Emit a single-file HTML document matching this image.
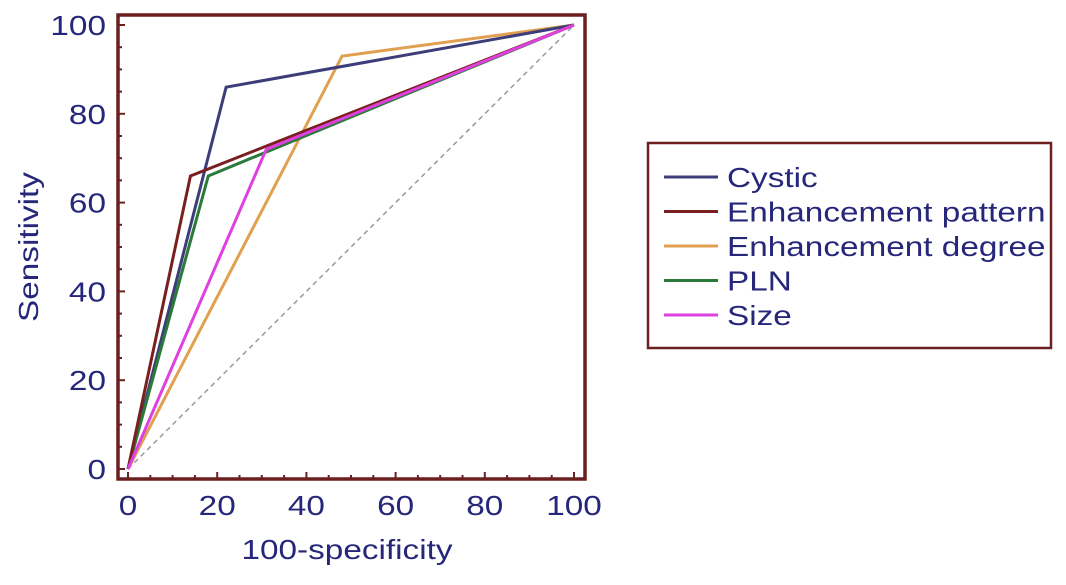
<!DOCTYPE html>
<html><head><meta charset="utf-8"><style>
body{margin:0;background:#fff;}
svg text{font-family:"Liberation Sans",sans-serif;fill:#26267a;}
</style></head><body>
<svg id="chart" width="1066" height="580" viewBox="0 0 1066 580" xmlns="http://www.w3.org/2000/svg">
<g id="plot"></g>
<text transform="translate(347,559) scale(1.19,1)" font-size="28" text-anchor="middle">100-specificity</text>
<text transform="translate(38,247) rotate(-90) scale(1.19,1)" font-size="28" text-anchor="middle">Sensitivity</text>
<g>
<rect x="648" y="143" width="403" height="205" fill="#fff" stroke="#6b1f1f" stroke-width="2.5"/>
<g id="legend-items"></g>
</g>
</svg>
<script>
const seriesNames=["Cystic","Enhancement pattern","Enhancement degree","PLN","Size"];
const seriesColors=["#3d3d7a","#7a1f1f","#e0a050","#2a7a3a","#e040e0"];
const cysticX=[0,22,100], cysticY=[0,86,100];
const patternX=[0,14,100], patternY=[0,66,100];
const degreeX=[0,48,100], degreeY=[0,93,100];
const plnX=[0,18,100], plnY=[0,66,100];
const sizeX=[0,31,100], sizeY=[0,72,100];
const xTicks=[0,20,40,60,80,100];
const yTicks=[0,20,40,60,80,100];
const NS="http://www.w3.org/2000/svg";
const sx=v=>128+v*4.46, sy=v=>469-v*4.44;
const plot=document.getElementById('plot');
function mk(t,a){const e=document.createElementNS(NS,t);for(const k in a)e.setAttribute(k,a[k]);return e;}
let d=mk('line',{x1:sx(0),y1:sy(0),x2:sx(100),y2:sy(100),stroke:'#999','stroke-width':1.5,'stroke-dasharray':'5,4'});


plot.appendChild(d);
const xs=[cysticX,patternX,degreeX,plnX,sizeX], ys=[cysticY,patternY,degreeY,plnY,sizeY];
const order=[2,0,3,1,4];
order.forEach(i=>{
  const pts=xs[i].map((x,j)=>sx(x)+','+sy(ys[i][j])).join(' ');
  const p=mk('polyline',{points:pts,fill:'none',stroke:seriesColors[i],'stroke-width':3});
  
  
  plot.appendChild(p);
});
const fr=mk('rect',{x:118,y:15,width:467,height:464,fill:'none',stroke:'#6b1f1f','stroke-width':3.5});


plot.appendChild(fr);
for(let v=0;v<=100;v+=5){
  const len=v%20===0?7:4;
  const tx=mk('line',{x1:sx(v),y1:479,x2:sx(v),y2:479-len,stroke:'#6b1f1f','stroke-width':2});
  
  
  plot.appendChild(tx);
  const ty=mk('line',{x1:118,y1:sy(v),x2:118+len,y2:sy(v),stroke:'#6b1f1f','stroke-width':2});
  
  
  plot.appendChild(ty);
}
xTicks.forEach(v=>{
  const t=mk('text',{transform:'translate('+sx(v)+',515) scale(1.19,1)','font-size':28,'text-anchor':'middle'});t.textContent=v;
  
  
  plot.appendChild(t);
});
yTicks.forEach(v=>{
  const t=mk('text',{transform:'translate(106,'+(sy(v)+10)+') scale(1.19,1)','font-size':28,'text-anchor':'end'});t.textContent=v;
  
  
  plot.appendChild(t);
});
const lg=document.getElementById('legend-items');
seriesNames.forEach((n,i)=>{
  const y=177+i*34.5;
  const l=mk('line',{x1:664,y1:y,x2:718,y2:y,stroke:seriesColors[i],'stroke-width':3});
  
  
  lg.appendChild(l);
  const t=mk('text',{transform:'translate(727,'+(y+10)+') scale(1.19,1)','font-size':28});t.textContent=n;
  
  
  lg.appendChild(t);
});
</script>
</body></html>
